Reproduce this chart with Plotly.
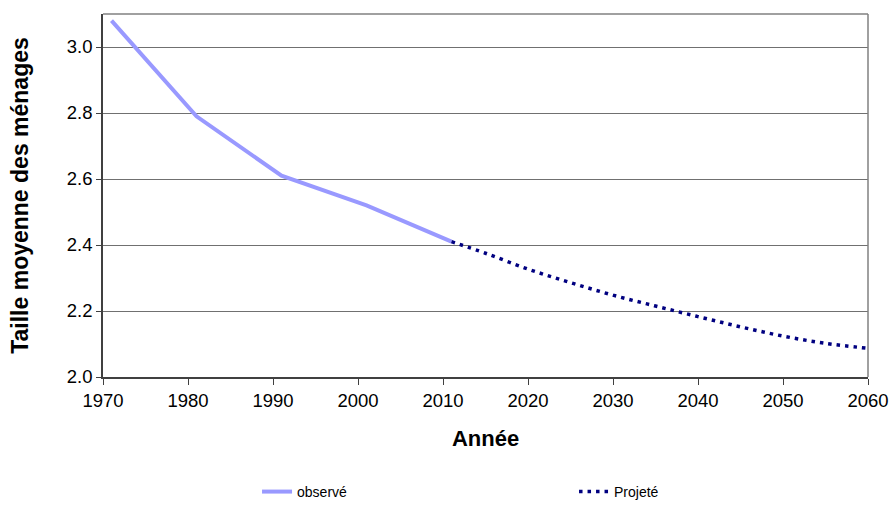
import plotly.graph_objects as go

obs_years = [1971, 1981, 1991, 2001, 2011]
obs_values = [3.08, 2.79, 2.61, 2.52, 2.41]

proj_years = [2011, 2015, 2020, 2025, 2030, 2035, 2040, 2045, 2050, 2055, 2060]
proj_values = [2.41, 2.375, 2.327, 2.286, 2.248, 2.215, 2.183, 2.152, 2.124, 2.102, 2.087]

x_ticks = [1970, 1980, 1990, 2000, 2010, 2020, 2030, 2040, 2050, 2060]
y_ticks = [2.0, 2.2, 2.4, 2.6, 2.8, 3.0]

fig = go.Figure()
fig.add_trace(go.Scatter(x=obs_years, y=obs_values, mode="lines", name="observé",
                         line=dict(color="#9999FF", width=4)))
fig.add_trace(go.Scatter(x=proj_years, y=proj_values, mode="lines", name="Projeté",
                         line=dict(color="#000080", width=3.5, dash="3.5px,5px", shape="spline")))

font = "Liberation Sans, Arial, sans-serif"
fig.update_layout(
    template="none",
    width=890, height=506,
    margin=dict(l=103, r=22, t=14, b=129, autoexpand=False),
    paper_bgcolor="white", plot_bgcolor="white",
    font=dict(family=font, size=18.5, color="black"),
    showlegend=True,
    legend=dict(orientation="h", xref="container", yref="container",
                x=0.2888, xanchor="left", y=0.0277, yanchor="middle",
                entrywidth=272, entrywidthmode="pixels", font=dict(size=14),
                traceorder="normal", bgcolor="rgba(0,0,0,0)"),
    xaxis=dict(range=[1970, 2060], tickvals=x_ticks, showgrid=False,
               ticks="outside", ticklen=6, tickcolor="#404040", tickwidth=1,
               showline=True, linecolor="#404040", linewidth=1.5, mirror=False,
               title=dict(text="<b>Année</b>", font=dict(size=22), standoff=21),
               zeroline=False, automargin=False),
    yaxis=dict(range=[2.0, 3.1], tickvals=y_ticks, tickformat=".1f",
               showgrid=True, gridcolor="#707070", gridwidth=1,
               ticks="outside", ticklen=5, tickcolor="#404040", tickwidth=1,
               showline=True, linecolor="#404040", linewidth=1.5,
               title=dict(text="<b>Taille moyenne des ménages</b>", font=dict(size=23), standoff=32),
               zeroline=False, automargin=False),
)
# frame on top and right
fig.add_shape(type="line", xref="paper", yref="paper", x0=0, x1=1, y0=1, y1=1,
              line=dict(color="#808080", width=1.5))
fig.add_shape(type="line", xref="paper", yref="paper", x0=1, x1=1, y0=0, y1=1,
              line=dict(color="#808080", width=1.5))

fig.write_html("out.html", config={"displayModeBar": False},
               post_script="document.body.style.margin='0';")
